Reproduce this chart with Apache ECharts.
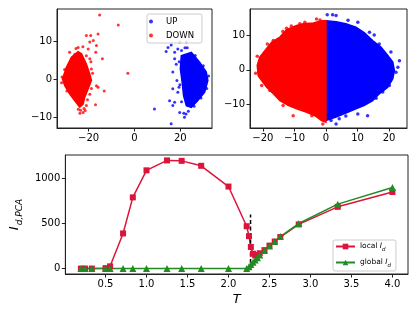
<!DOCTYPE html>
<html><head><meta charset="utf-8">
<script src="https://cdn.jsdelivr.net/npm/echarts@6/dist/echarts.min.js"></script>
<style>html,body{margin:0;padding:0;background:#fff}#c{width:416px;height:314px}</style>
</head><body><div id="c"></div>
<script>
// ---------- Bottom panel data ----------
const temps = [0.2, 0.25, 0.333, 0.5, 0.556, 0.714, 0.833, 1.0, 1.25, 1.429, 1.667, 2.0, 2.222, 2.25, 2.273, 2.299, 2.326, 2.353, 2.381, 2.439, 2.5, 2.564, 2.632, 2.857, 3.333, 4.0];
const localId = [0, 0, 0, 5, 25, 390, 790, 1090, 1200, 1195, 1140, 910, 470, 360, 240, 165, 145, 150, 170, 205, 255, 300, 350, 490, 685, 850];
const globalId = [0, 0, 0, 0, 0, 0, 0, 0, 0, 0, 0, 0, 2, 20, 45, 70, 95, 120, 150, 200, 250, 300, 355, 500, 715, 900];
const criticalT = 2.269;
const criticalRange = [-10, 600];
const bottomXTicks = [0.5, 1.0, 1.5, 2.0, 2.5, 3.0, 3.5, 4.0];
const bottomYTicks = [0, 500, 1000];

// ---------- Top-left panel (UP / DOWN clusters) ----------
const leftTicksX = [-20, 0, 20];
const leftTicksY = [-10, 0, 10];
const leftDownCore = [[-31.4,0],[-29.7,3.1],[-27.5,5.7],[-24.6,7.2],[-23.1,6.6],[-21,3.9],[-19.5,1.3],[-18.8,-0.4],[-20.2,-2.6],[-21.7,-4.8],[-22.4,-6.6],[-23.9,-7.4],[-26.1,-5.7],[-28.3,-3.9],[-30.4,-1.8]];
const leftDownPts = [[-15.2,16.8],[-7.1,14.2],[-15.9,11.8],[-19.1,11.4],[-21.0,11.4],[-18.0,10.1],[-19.5,9.7],[-16.6,8.8],[-24.6,8.3],[-20.2,7.9],[-16.9,7.0],[-21.0,6.1],[-14.0,5.3],[-19.5,5.3],[-18.8,2.6],[-19.5,0],[-18.8,-2.5],[-16.6,-1.8],[-15.9,-2.2],[-13.2,-3.2],[-17.0,-6.8],[-22.4,-8.8],[-21.0,-7.0],[-2.9,1.5],[-23.5,-8.2],[-31.6,0.5],[-26,6.5],
  [-28.3,7.0],[-25.5,8.0],[-22.5,8.5],[-30.5,2.5],[-31.8,-1],[-29.5,-3.2],[-24.5,-8.0],[-22,-7.8],[-20.5,-5.5],[-19.5,-4],[-18.3,1.5],[-19,4.5],[-23.8,-9.0],[-21.5,-8.3]];
const leftUpCore = [[20.4,6.1],[24.8,7.0],[28.4,4.4],[31.3,1.8],[32.0,-0.4],[30.6,-3.5],[27.6,-5.7],[24.8,-7.5],[22.6,-7.0],[21.4,-4.4],[20.8,-0.9],[20.0,2.6]];
const leftUpPts = [[14.6,8.3],[16.0,8.9],[13.8,7.2],[17.5,7.0],[18.9,7.9],[19.7,9.7],[22.6,9.7],[17.5,5.3],[18.2,3.9],[16.7,1.8],[18.5,-0.4],[19.4,-2.2],[16.7,-2.6],[18.9,-3.5],[15.3,-5.7],[17.5,-6.1],[16.7,-7.0],[8.7,-7.9],[19.7,-8.8],[21.8,-10.1],[16.0,-11.8],[23.3,-7.0],[21.5,-9.0],[23,8.2],
  [20.5,7.5],[22,8.2],[26.5,6.2],[30,3.5],[32.3,0.8],[31.5,-2.5],[29,-5],[26,-7.2],[23.5,-8.5],[22.5,-9.2],[20.5,-6],[19.8,-1.5],[19.5,4.5]];

// ---------- Top-right panel ----------
const rightTicksX = [-20, -10, 0, 10, 20];
const rightTicksY = [-10, 0, 10];
const rightDownCore = [[0,14.4],[-1.4,14.4],[-4.0,13.7],[-7.2,13.5],[-9.3,13.0],[-12.5,11.8],[-14.6,9.6],[-17.2,8.1],[-19.4,5.6],[-21.0,3.7],[-21.8,1.3],[-21.5,-1.7],[-20.4,-3.1],[-18.8,-5.1],[-16.7,-7.0],[-14.6,-9.0],[-12.0,-10.4],[-9.3,-11.4],[-6.1,-12.4],[-3.5,-13.4],[-1.4,-14.8],[0,-15.3]];
const rightDownPts = [[-21.8,4.0],[-21.0,2.3],[-18.6,7.6],[-16.7,8.6],[-13.7,11.2],[-12.5,12.2],[-8.3,13.5],[-6.7,13.9],[-1.9,14.6],[-19.7,-3.1],[-20.4,-4.6],[-13.6,-10.4],[-10.4,-13.4],[-4.5,-13.4],[-1.4,-14.3],[-1.0,-15.8],[-17.8,-6.0],[-22.3,-1.0],[-11,12.8],[-3,14.9]];
const rightUpCore = [[0,14.4],[3.2,14.1],[6.3,13.5],[9.5,12.5],[12.2,10.8],[14.8,8.6],[17.5,6.6],[19.6,4.2],[21.2,2.3],[21.7,-0.2],[21.2,-2.6],[19.6,-5.1],[16.9,-7.0],[14.8,-9.0],[12.2,-10.4],[9.5,-11.4],[6.3,-12.6],[3.2,-13.8],[0,-14.8]];
const rightUpPts = [[2.1,16.1],[3.2,15.9],[0.4,16.1],[10.1,13.9],[13.8,11.0],[15.3,10.2],[16.9,7.6],[20.6,5.2],[23.3,2.7],[22.8,0.8],[22.2,-0.7],[20.1,-4.6],[18.0,-6.5],[15.9,-8.3],[13.2,-13.4],[10.1,-12.9],[6.3,-13.5],[4.2,-14.3],[1.6,-14.8],[3.2,-15.8],[7,14.5]];

const FONT = 'DejaVu Sans';
const minusFmt = v => String(v).replace('-', '\u2212');

function polySeries(name, idx, pts, color) {
  return {
    type: 'custom', name: name, xAxisIndex: idx, yAxisIndex: idx, silent: true, clip: true,
    data: pts,
    renderItem: function (params, api) {
      if (params.dataIndex !== 0) return null;
      const p = pts.map(q => api.coord(q));
      return { type: 'polygon', shape: { points: p }, style: { fill: color, stroke: color, lineWidth: 1.5 } };
    }
  };
}
function dotSeries(name, idx, pts, color, size) {
  return { type: 'scatter', name: name, xAxisIndex: idx, yAxisIndex: idx, data: pts, symbol: 'circle', symbolSize: size, itemStyle: { color: color }, silent: true };
}
function valAxis(gridIndex, min, max, ticks, fmt, extra) {
  return Object.assign({
    type: 'value', gridIndex: gridIndex, min: min, max: max,
    axisLine: { show: true, onZero: false, lineStyle: { color: '#222', width: 1 } },
    axisTick: { show: true, length: 3.5, lineStyle: { color: '#222' }, customValues: ticks },
    axisLabel: { customValues: ticks, formatter: fmt, color: '#000', fontSize: 10, fontFamily: FONT, margin: 5 },
    splitLine: { show: false }
  }, extra || {});
}
const gridBox = { show: true, borderColor: '#222', borderWidth: 1, backgroundColor: 'transparent' };

const chart = echarts.init(document.getElementById('c'), null, { renderer: 'canvas' });
chart.setOption({
  animation: false,
  backgroundColor: '#fff',
  textStyle: { fontFamily: FONT },
  grid: [
    Object.assign({ left: 57, top: 9, width: 155, height: 119 }, gridBox),
    Object.assign({ left: 250, top: 9, width: 157, height: 119 }, gridBox),
    Object.assign({ left: 56, top: 155, width: 352, height: 119 }, gridBox)
  ],
  xAxis: [
    valAxis(0, -33.8, 33.8, leftTicksX, minusFmt),
    valAxis(1, -24.1, 25.7, rightTicksX, minusFmt),
    valAxis(2, 0.01, 4.19, bottomXTicks, v => v.toFixed(1), {
      name: 'T', nameLocation: 'middle', nameGap: 19,
      nameTextStyle: { fontSize: 13, fontStyle: 'italic', fontFamily: FONT, color: '#000' }
    })
  ],
  yAxis: [
    valAxis(0, -12.9, 18.4, leftTicksY, minusFmt),
    valAxis(1, -17.0, 17.8, rightTicksY, minusFmt),
    valAxis(2, -60, 1260, bottomYTicks, v => String(v), {
      name: '{i|I}{s|d,PCA}', nameLocation: 'middle', nameGap: 33, nameRotate: 90,
      nameTextStyle: { color: '#000', rich: {
        i: { fontSize: 13, fontStyle: 'italic', fontFamily: FONT, color: '#000', verticalAlign: 'top', lineHeight: 15 },
        s: { fontSize: 9, fontStyle: 'italic', fontFamily: FONT, color: '#000', verticalAlign: 'top', lineHeight: 10, padding: [7, 0, 0, 1] }
      } }
    })
  ],
  legend: [
    {
      data: ['UP', 'DOWN'], orient: 'vertical', left: 147, top: 14,
      icon: 'circle', itemWidth: 20, itemHeight: 4, itemGap: 5,
      padding: [3, 8, 3, 2], borderColor: '#ccc', borderWidth: 1, borderRadius: 2,
      backgroundColor: 'rgba(255,255,255,0.85)',
      textStyle: { fontSize: 8.5, fontFamily: FONT, color: '#000' }
    },
    {
      data: ['local', 'global'], orient: 'vertical', left: 333, top: 240,
      itemWidth: 19, itemHeight: 7, itemGap: 5,
      padding: [2, 5, 2, 2], borderColor: '#ccc', borderWidth: 1, borderRadius: 2,
      backgroundColor: 'rgba(255,255,255,0.85)',
      formatter: n => '{a|' + n + ' }{i|I}{s|d}',
      textStyle: { fontSize: 7.5, fontFamily: FONT, color: '#000', rich: {
        a: { fontSize: 7.5, fontFamily: FONT, color: '#000', verticalAlign: 'top', lineHeight: 9 },
        i: { fontSize: 7.5, fontStyle: 'italic', fontFamily: FONT, color: '#000', verticalAlign: 'top', lineHeight: 9 },
        s: { fontSize: 5.5, fontStyle: 'italic', fontFamily: FONT, color: '#000', verticalAlign: 'top', lineHeight: 6, padding: [5, 0, 0, 0] }
      } }
    }
  ],
  series: [
    polySeries('upCoreL', 0, leftUpCore, '#0000ff'),
    dotSeries('UP', 0, leftUpPts, '#0000ff', 3),
    polySeries('downCoreL', 0, leftDownCore, '#ff0000'),
    dotSeries('DOWN', 0, leftDownPts, '#ff0000', 3),
    polySeries('upCoreR', 1, rightUpCore, '#0000ff'),
    dotSeries('upR', 1, rightUpPts, '#0000ff', 3.5),
    polySeries('downCoreR', 1, rightDownCore, '#ff0000'),
    dotSeries('downR', 1, rightDownPts, '#ff0000', 3.5),
    {
      type: 'line', name: 'local', xAxisIndex: 2, yAxisIndex: 2,
      data: temps.map((t, i) => [t, localId[i]]),
      symbol: 'rect', symbolSize: 6, showAllSymbol: true,
      lineStyle: { color: '#dc143c', width: 1.5 }, itemStyle: { color: '#dc143c' }
    },
    {
      type: 'line', name: 'global', xAxisIndex: 2, yAxisIndex: 2,
      data: temps.map((t, i) => [t, globalId[i]]),
      symbol: 'triangle', symbolSize: 7, showAllSymbol: true,
      lineStyle: { color: '#228b22', width: 1.5 }, itemStyle: { color: '#228b22' }
    },
    {
      type: 'line', name: 'Tc', xAxisIndex: 2, yAxisIndex: 2,
      data: criticalRange.map(v => [criticalT, v]),
      symbol: 'none', lineStyle: { color: '#000', width: 1.5, type: [4, 2.5] }, silent: true
    }
  ]
});
</script></body></html>
